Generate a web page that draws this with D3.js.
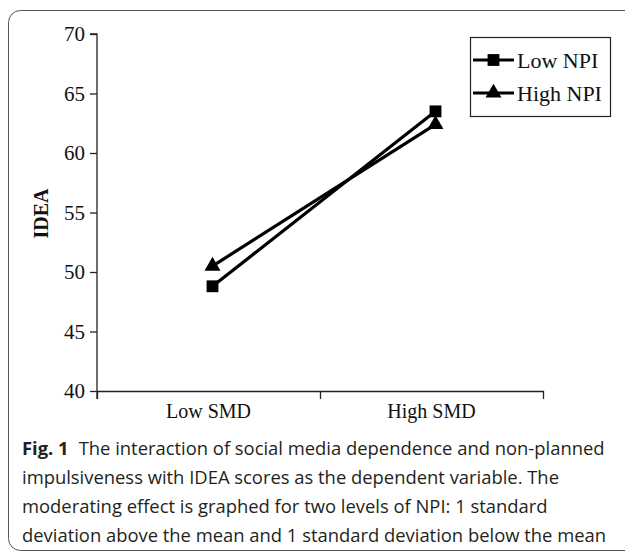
<!DOCTYPE html>
<html>
<head>
<meta charset="utf-8">
<script src="https://cdn.jsdelivr.net/npm/d3@7"></script>
<style>
  body { margin: 0; background: #fff; }
  svg { display: block; }
</style>
</head>
<body>
<div id="wrapper"></div>
<script>
// data
const categories = ["Low SMD", "High SMD"];
const seriesNames = ["Low NPI", "High NPI"];
const lowNPI = [48.8, 63.5];
const highNPI = [50.5, 62.4];
const yTicks = [40, 45, 50, 55, 60, 65, 70];
const captionLines = [
    ["Fig. 1", "The interaction of social media dependence and non-planned"],
    ["", "impulsiveness with IDEA scores as the dependent variable. The"],
    ["", "moderating effect is graphed for two levels of NPI: 1 standard"],
    ["", "deviation above the mean and 1 standard deviation below the mean"]
];

const width = 625, height = 552;
const plot = { left: 97, right: 543, top: 34, bottom: 391 };

const svg = d3.select("#wrapper").append("svg")
    .attr("width", width)
    .attr("height", height);

// outer frame (rounded on the left, runs off right/bottom)
svg.append("rect")
    .attr("x", 8.5).attr("y", 10.5)
    .attr("width", 700).attr("height", 540)
    .attr("rx", 12)
    .attr("fill", "none")
    .attr("stroke", "#555")
    .attr("stroke-width", 1);

const serif = "'Liberation Serif', 'Times New Roman', serif";

const yScaler = d3.scaleLinear()
    .domain([40, 70])
    .range([plot.bottom, plot.top]);

const xBand = d3.scaleBand()
    .domain(categories)
    .range([plot.left, plot.right])
    .padding(0);

const xPos = (i) => xBand(categories[i]) + xBand.bandwidth() / 2 + 4;

// y axis
const yAxis = d3.axisLeft(yScaler)
    .tickValues(yTicks)
    .tickSize(7)
    .tickSizeOuter(7)
    .tickPadding(5);

const yg = svg.append("g")
    .attr("transform", `translate(${plot.left},0)`)
    .call(yAxis);
yg.selectAll("text")
    .attr("font-family", serif)
    .attr("font-size", 21)
    .attr("fill", "#111");
yg.selectAll("line, path").attr("stroke", "#222").attr("stroke-width", 1.3);
// let the y axis reach below the x axis a little
yg.select(".domain").attr("d", `M-7,${plot.top}H0V${plot.bottom + 8}`);

// x axis: ticks at the category boundaries
const xEdge = d3.scaleLinear().domain([0, 2]).range([plot.left, plot.right]);
const xg = svg.append("g")
    .attr("transform", `translate(0,${plot.bottom})`)
    .call(d3.axisBottom(xEdge).tickValues([0, 1, 2]).tickFormat("").tickSize(8).tickSizeOuter(0));
xg.selectAll("line, path").attr("stroke", "#222").attr("stroke-width", 1.3);

// category labels
const xl = svg.append("g")
    .attr("transform", `translate(0,${plot.bottom})`)
    .call(d3.axisBottom(xBand).tickSize(0).tickPadding(13));
xl.select(".domain").remove();
xl.selectAll("text")
    .attr("font-family", serif)
    .attr("font-size", 20)
    .attr("fill", "#111");

// y axis title
svg.append("text")
    .attr("transform", `translate(48,${(plot.top + plot.bottom) / 2 + 1}) rotate(-90)`)
    .attr("text-anchor", "middle")
    .attr("font-family", serif)
    .attr("font-weight", "bold")
    .attr("font-size", 20)
    .attr("fill", "#111")
    .text("IDEA");

// lines
const lineGen = d3.line()
    .x((d, i) => xPos(i))
    .y(d => yScaler(d));

const symbols = [d3.symbolSquare, d3.symbolTriangle];
const symSize = [140, 110];
const allSeries = [lowNPI, highNPI];

allSeries.forEach((vals, s) => {
    svg.append("path")
        .attr("d", lineGen(vals))
        .attr("fill", "none")
        .attr("stroke", "#000")
        .attr("stroke-width", 3.2);

    svg.selectAll(null)
        .data(vals)
        .join("path")
        .attr("transform", (d, i) => `translate(${xPos(i)},${yScaler(d)})`)
        .attr("d", d3.symbol().type(symbols[s]).size(symSize[s]))
        .attr("fill", "#000");
});

// legend
const legend = svg.append("g").attr("transform", "translate(470,37)");
legend.append("rect")
    .attr("x", 0.5).attr("y", 0.5)
    .attr("width", 140).attr("height", 79)
    .attr("fill", "#fff")
    .attr("stroke", "#222")
    .attr("stroke-width", 1.2);

seriesNames.forEach((name, s) => {
    const row = legend.append("g").attr("transform", `translate(0,${23 + s * 33})`);
    row.append("line")
        .attr("x1", 3).attr("x2", 44)
        .attr("stroke", "#000")
        .attr("stroke-width", 3.2);
    row.append("path")
        .attr("transform", "translate(23.5,0)")
        .attr("d", d3.symbol().type(symbols[s]).size(symSize[s]))
        .attr("fill", "#000");
    row.append("text")
        .attr("x", 47)
        .attr("dy", "0.35em")
        .attr("font-family", serif)
        .attr("font-size", 22)
        .attr("fill", "#111")
        .text(name);
});

// caption
const cap = svg.append("text")
    .attr("font-family", "'Open Sans', 'Noto Sans', sans-serif")
    .attr("font-size", 18.4)
    .attr("fill", "#231f20");

captionLines.forEach((ln, i) => {
    const y = 455 + i * 29;
    if (ln[0]) {
        cap.append("tspan")
            .attr("x", 22).attr("y", y)
            .attr("font-weight", "bold")
            .text(ln[0]);
        cap.append("tspan")
            .attr("dx", 10)
            .text(ln[1]);
    } else {
        cap.append("tspan")
            .attr("x", 22).attr("y", y)
            .text(ln[1]);
    }
});
</script>
</body>
</html>
